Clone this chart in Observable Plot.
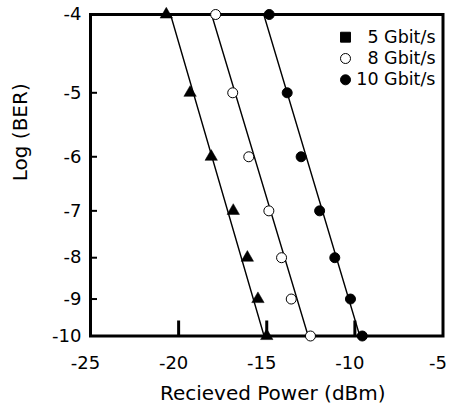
<!DOCTYPE html>
<html><head><meta charset="utf-8">
<script src="https://cdn.jsdelivr.net/npm/d3@7"></script>
<script src="https://cdn.jsdelivr.net/npm/@observablehq/plot@0.6"></script>
<style>body{margin:0;background:#fff}</style>
</head><body><div id="chart"></div>
<script>
// ---- data ----
const logBER = [-4, -5, -6, -7, -8, -9, -10];
const power5G = [-20.7, -19.35, -18.15, -16.9, -16.1, -15.5, -15.0];
const power8G = [-17.9, -16.93, -16.02, -14.88, -14.16, -13.61, -12.52];
const power10G = [-14.86, -13.84, -13.05, -12.0, -11.14, -10.25, -9.58];
const fitBER = [-4, -10];
const fit5G = [-20.46, -15.15];
const fit8G = [-18.13, -12.65];
const fit10G = [-15.17, -9.72];
const seriesNames = ["5 Gbit/s", "8 Gbit/s", "10 Gbit/s"];
const legendSymbols = ["square", "circle", "circle"];
const legendFills = ["black", "white", "black"];
const xTicks = [-25, -20, -15, -10, -5];
const xInnerTicks = [-20, -15, -10];
const yTicks = [-4, -5, -6, -7, -8, -9, -10];
const yInnerTicks = [-5, -6, -7, -8, -9];
const xTitle = "Recieved Power (dBm)";
const yTitle = "Log (BER)";

// ---- build tables ----
const pts = (pw, s) => pw.map((p, i) => ({power: p, ber: logBER[i], series: s}));
const pts5 = pts(power5G, seriesNames[0]);
const pts8 = pts(power8G, seriesNames[1]);
const pts10 = pts(power10G, seriesNames[2]);
const fitLine = (pw, s) => pw.map((p, i) => ({power: p, ber: fitBER[i], series: s}));
const fits = [...fitLine(fit5G, seriesNames[0]), ...fitLine(fit8G, seriesNames[1]), ...fitLine(fit10G, seriesNames[2])];

const W = 449, H = 409, mL = 90, mR = 6.5, mT = 14, mB = 73.5;
const innerW = W - mL - mR, innerH = H - mT - mB;
const font = "DejaVu Sans";
const yv = d => -d.ber;

const legendMarks = seriesNames.flatMap((name, i) => [
  Plot.dot([name], {frameAnchor: "top-right", dx: -97.5, dy: 22.7 + 21.3 * i,
    symbol: legendSymbols[i], r: legendSymbols[i] === "square" ? 5.6 : 5,
    fill: legendFills[i], stroke: "black", strokeWidth: 1}),
  Plot.text([name], {frameAnchor: "top-right", dx: -7.5, dy: 22.7 + 21.3 * i,
    text: d => d, textAnchor: "end", lineAnchor: "middle", fontSize: 17.5, fill: "black"})
]);

const chart = Plot.plot({
  width: W, height: H,
  marginLeft: mL, marginRight: mR, marginTop: mT, marginBottom: mB,
  style: {fontFamily: font, fontSize: "18px", background: "white", color: "black"},
  x: {domain: [-25, -5]},
  y: {type: "log", domain: [4, 10], reverse: true},
  marks: [
    Plot.line(fits, {x: "power", y: yv, z: "series", stroke: "black", strokeWidth: 1.4}),
    Plot.frame({stroke: "black", strokeWidth: 3}),
    Plot.tickX(xInnerTicks, {x: d => d, stroke: "black", strokeWidth: 3, insetTop: innerH - 15}),
    Plot.tickY(yInnerTicks, {y: d => -d, stroke: "black", strokeWidth: 2, insetRight: innerW - 7}),
    Plot.axisX({ticks: xTicks, tickSize: 0, tickPadding: 20, tickFormat: d => String(d), label: null, fontSize: 18, dx: -5}),
    Plot.axisY({ticks: yTicks.map(v => -v), tickSize: 0, tickPadding: 9, tickFormat: d => String(-d), label: null, fontSize: 18}),
    Plot.dot(pts5, {x: "power", y: yv, symbol: "triangle", r: 4.6, fill: "black", stroke: "black", strokeWidth: 0.5}),
    Plot.dot(pts8, {x: "power", y: yv, symbol: "circle", r: 5, fill: "white", stroke: "black", strokeWidth: 1}),
    Plot.dot(pts10, {x: "power", y: yv, symbol: "circle", r: 5, fill: "black", stroke: "black", strokeWidth: 1}),
    ...legendMarks,
    Plot.text([xTitle], {frameAnchor: "bottom", dx: 6, dy: 50, text: d => d, lineAnchor: "top", fontSize: 20, fill: "black"}),
    Plot.text([yTitle], {frameAnchor: "left", dx: -70, dy: 6, rotate: -90, text: d => d, lineAnchor: "middle", fontSize: 20, fill: "black"})
  ]
});
document.getElementById("chart").append(chart);
</script>
</body></html>
